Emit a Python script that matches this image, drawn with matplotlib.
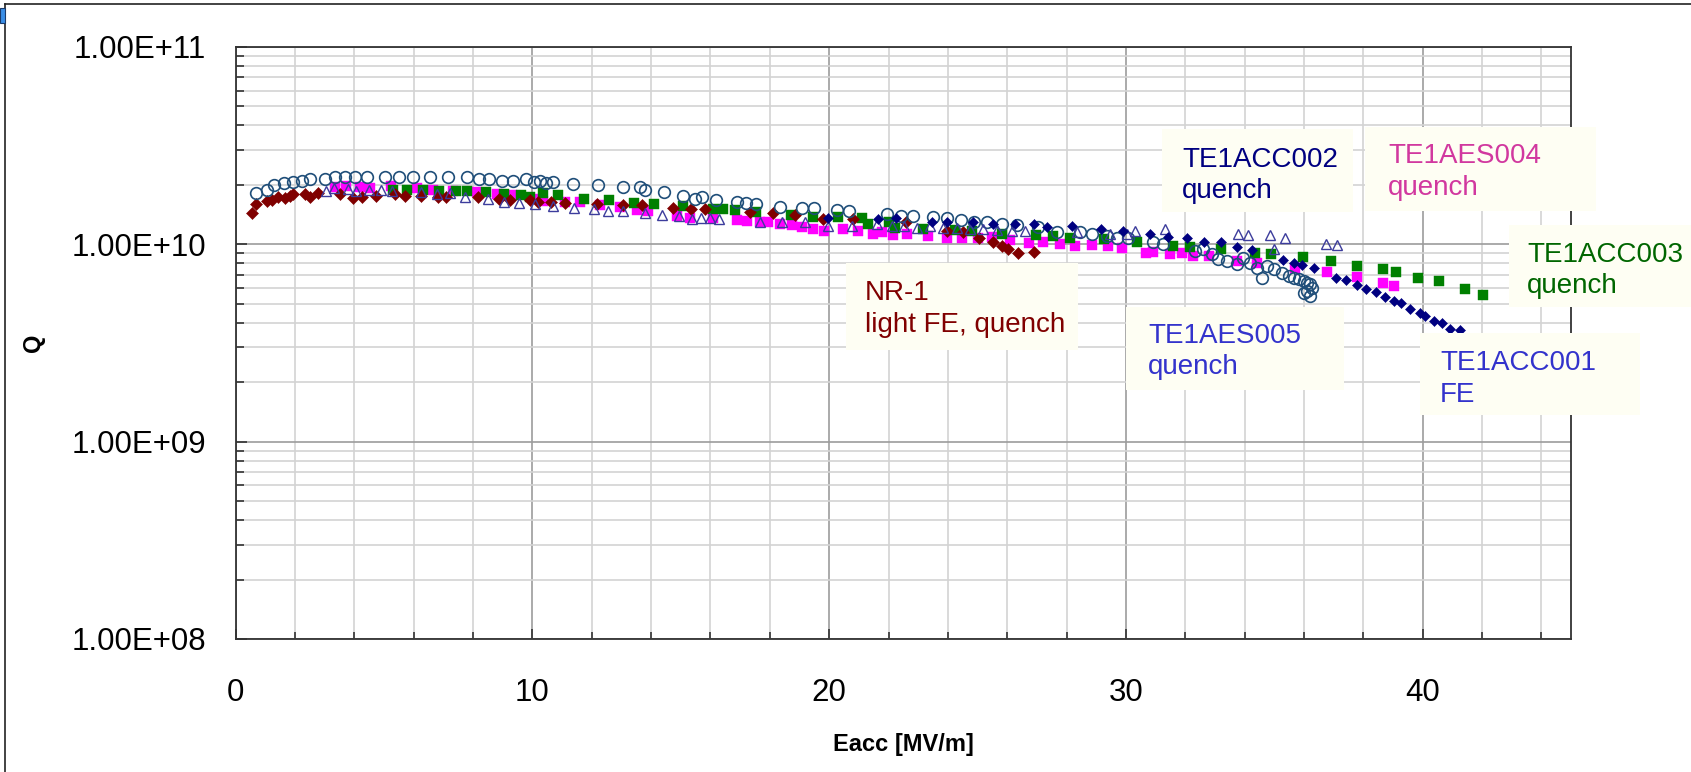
import matplotlib
matplotlib.use("Agg")
import matplotlib.pyplot as plt
from matplotlib.ticker import MultipleLocator, FixedLocator, LogLocator, FuncFormatter, NullFormatter
from matplotlib.patches import Rectangle
from matplotlib.lines import Line2D

plt.rcParams['font.family'] = ['Liberation Sans', 'DejaVu Sans']

# ---------------- data (Eacc in MV/m, Q) ----------------
aes005_x = [0.67, 1.07, 1.29, 1.62, 1.93, 2.24, 2.49, 3.02, 3.36, 3.68, 4.02, 4.41, 5.02, 5.51, 5.98, 6.54,
            7.16, 7.78, 8.2, 8.54, 8.96, 9.35, 9.8, 10.05, 10.27, 10.47, 10.68, 11.37, 12.21, 13.04, 13.62,
            13.79, 14.43, 15.06, 15.47, 15.7, 16.2, 16.9, 17.19, 17.55, 18.35, 19.1, 19.48, 20.25, 20.66,
            21.94, 22.41, 22.82, 23.49, 23.96, 24.43, 24.88, 25.33, 25.81, 26.32, 27.05, 27.67, 28.46, 28.85,
            29.36, 29.69, 30.08, 30.93, 31.26, 32.33, 32.61, 32.89, 33.12, 33.4, 33.74, 33.96, 34.19, 34.42,
            34.59, 34.76, 34.98, 35.26, 35.49, 35.66, 35.83, 35.99, 36.1, 36.21, 36.27, 36.1, 36.21, 35.99]
aes005_q = [1.82e10, 1.88e10, 2.0e10, 2.03e10, 2.07e10, 2.09e10, 2.14e10, 2.14e10, 2.18e10, 2.20e10, 2.20e10,
            2.20e10, 2.20e10, 2.20e10, 2.20e10, 2.20e10, 2.18e10, 2.18e10, 2.14e10, 2.14e10, 2.09e10, 2.08e10,
            2.14e10, 2.06e10, 2.09e10, 2.03e10, 2.06e10, 2.02e10, 2.0e10, 1.95e10, 1.94e10, 1.87e10, 1.83e10,
            1.76e10, 1.69e10, 1.74e10, 1.67e10, 1.64e10, 1.61e10, 1.60e10, 1.55e10, 1.52e10, 1.52e10, 1.49e10,
            1.47e10, 1.42e10, 1.39e10, 1.39e10, 1.37e10, 1.36e10, 1.32e10, 1.30e10, 1.29e10, 1.27e10, 1.25e10,
            1.22e10, 1.15e10, 1.15e10, 1.13e10, 1.10e10, 1.08e10, 1.08e10, 1.02e10, 1.0e10, 9.25e9, 9.44e9,
            8.89e9, 8.39e9, 8.22e9, 7.91e9, 8.55e9, 8.07e9, 7.60e9, 6.76e9, 7.76e9, 7.46e9, 7.18e9, 6.90e9,
            6.76e9, 6.64e9, 6.52e9, 6.38e9, 6.27e9, 6.03e9, 5.79e9, 5.47e9, 5.68e9]

nr1_x = [0.56, 0.7, 1.04, 1.21, 1.43, 1.65, 1.82, 1.93, 2.33, 2.49, 2.77, 3.51, 3.96, 4.24, 4.74, 5.36, 5.7,
         6.26, 6.82, 7.1, 8.17, 8.88, 9.24, 9.91, 10.19, 10.64, 11.09, 12.16, 13.06, 13.68, 14.74, 15.36,
         15.81, 17.33, 18.1, 18.85, 19.8, 20.8, 22.59, 23.96, 24.52, 25.06, 25.53, 25.81, 26.04, 26.37, 26.9]
nr1_q = [1.43e10, 1.60e10, 1.66e10, 1.67e10, 1.73e10, 1.71e10, 1.76e10, 1.79e10, 1.79e10, 1.73e10, 1.81e10,
         1.79e10, 1.71e10, 1.74e10, 1.76e10, 1.79e10, 1.76e10, 1.76e10, 1.74e10, 1.74e10, 1.73e10, 1.69e10,
         1.67e10, 1.67e10, 1.64e10, 1.63e10, 1.61e10, 1.60e10, 1.58e10, 1.58e10, 1.53e10, 1.51e10, 1.51e10,
         1.46e10, 1.43e10, 1.41e10, 1.34e10, 1.34e10, 1.29e10, 1.17e10, 1.15e10, 1.08e10, 1.03e10, 9.8e9,
         9.44e9, 9.06e9, 9.16e9]

acc002_x = [3.03, 3.3, 3.77, 4.05, 4.49, 4.91, 5.28, 6.26, 6.8, 7.22, 7.72, 8.51, 9.04, 9.56, 10.08, 10.7,
            11.4, 12.07, 12.55, 13.06, 13.79, 14.37, 14.94, 15.37, 15.67, 15.98, 16.3, 17.67, 18.4, 19.18,
            19.97, 20.76, 21.6, 22.11, 22.52, 22.95, 23.4, 23.85, 24.3, 24.75, 25.19, 25.65, 26.15, 26.6,
            28.34, 29.47, 30.03, 30.31, 31.32, 33.79, 34.13, 34.84, 35.37, 34.98, 36.75, 37.13]
acc002_q = [1.85e10, 1.92e10, 1.90e10, 1.86e10, 1.88e10, 1.88e10, 1.85e10, 1.83e10, 1.79e10, 1.81e10, 1.74e10,
            1.69e10, 1.64e10, 1.61e10, 1.60e10, 1.56e10, 1.53e10, 1.50e10, 1.48e10, 1.48e10, 1.44e10, 1.40e10,
            1.39e10, 1.34e10, 1.36e10, 1.36e10, 1.34e10, 1.29e10, 1.29e10, 1.29e10, 1.24e10, 1.24e10, 1.26e10,
            1.24e10, 1.24e10, 1.21e10, 1.24e10, 1.21e10, 1.21e10, 1.19e10, 1.19e10, 1.18e10, 1.17e10, 1.17e10,
            1.15e10, 1.12e10, 1.12e10, 1.17e10, 1.19e10, 1.12e10, 1.11e10, 1.11e10, 1.08e10, 9.44e9, 1.0e10,
            9.95e9]

acc001_x = [19.97, 21.66, 22.25, 23.46, 23.98, 24.86, 25.53, 26.26, 26.9, 27.33, 28.2, 29.15, 29.89, 30.81,
            31.43, 32.05, 32.64, 33.2, 33.74, 34.24, 35.29, 35.65, 35.93, 36.35, 37.09, 37.42, 37.79, 38.1,
            38.44, 38.74, 39.02, 39.27, 39.58, 39.92, 40.09, 40.37, 40.65, 40.93, 41.27]
acc001_q = [1.36e10, 1.34e10, 1.36e10, 1.30e10, 1.30e10, 1.30e10, 1.27e10, 1.26e10, 1.26e10, 1.22e10, 1.24e10,
            1.19e10, 1.16e10, 1.13e10, 1.09e10, 1.08e10, 1.03e10, 1.02e10, 9.62e9, 9.29e9, 8.30e9, 8.07e9,
            7.85e9, 7.55e9, 6.71e9, 6.56e9, 6.21e9, 5.92e9, 5.69e9, 5.37e9, 5.15e9, 5.06e9, 4.68e9, 4.50e9,
            4.33e9, 4.08e9, 4.00e9, 3.71e9, 3.66e9]

aes004_x = [3.34, 3.73, 4.18, 4.52, 5.25, 6.1, 6.66, 7.33, 8.12, 8.79, 9.3, 10.02, 10.36, 11.09, 11.6, 12.27,
            12.95, 13.51, 13.9, 14.86, 15.31, 16.1, 16.88, 17.22, 17.67, 17.95, 18.34, 18.74, 19.07, 19.46,
            19.82, 20.48, 20.98, 21.49, 21.77, 22.14, 22.61, 23.34, 23.96, 24.47, 25.03, 25.48, 26.1, 26.72,
            27.22, 27.78, 28.29, 28.85, 29.38, 29.86, 30.68, 30.91, 31.49, 31.88, 32.25, 32.81, 33.76, 34.43,
            35.7, 36.79, 37.8, 38.68, 39.02]
aes004_q = [1.94e10, 1.98e10, 1.94e10, 1.92e10, 1.98e10, 1.92e10, 1.88e10, 1.85e10, 1.83e10, 1.79e10, 1.78e10,
            1.69e10, 1.66e10, 1.63e10, 1.63e10, 1.58e10, 1.55e10, 1.49e10, 1.48e10, 1.39e10, 1.36e10, 1.36e10,
            1.32e10, 1.31e10, 1.29e10, 1.29e10, 1.26e10, 1.25e10, 1.22e10, 1.20e10, 1.16e10, 1.20e10, 1.16e10,
            1.13e10, 1.15e10, 1.11e10, 1.13e10, 1.10e10, 1.08e10, 1.08e10, 1.08e10, 1.09e10, 1.05e10, 1.01e10,
            1.02e10, 1.0e10, 9.8e9, 9.93e9, 9.73e9, 9.55e9, 9.06e9, 9.16e9, 8.89e9, 9.06e9, 8.73e9, 8.73e9,
            8.22e9, 8.07e9, 7.60e9, 7.26e9, 6.82e9, 6.38e9, 6.14e9]

acc003_x = [5.3, 5.76, 6.32, 6.85, 7.44, 7.8, 8.45, 9.04, 9.63, 9.91, 10.36, 10.87, 11.73, 12.59, 13.42, 14.09,
            15.06, 16.09, 16.43, 16.82, 17.55, 18.7, 19.46, 20.31, 21.1, 21.32, 22.03, 22.22, 23.17, 24.24,
            24.8, 25.81, 26.97, 27.56, 28.12, 29.27, 30.39, 31.6, 32.16, 33.2, 34.36, 34.88, 35.96, 36.91,
            37.8, 38.68, 39.11, 39.86, 40.54, 41.44, 42.03]
acc003_q = [1.88e10, 1.88e10, 1.88e10, 1.86e10, 1.85e10, 1.85e10, 1.83e10, 1.79e10, 1.78e10, 1.74e10, 1.81e10,
            1.78e10, 1.69e10, 1.67e10, 1.61e10, 1.60e10, 1.56e10, 1.51e10, 1.51e10, 1.49e10, 1.46e10, 1.41e10,
            1.38e10, 1.38e10, 1.36e10, 1.26e10, 1.30e10, 1.21e10, 1.19e10, 1.18e10, 1.16e10, 1.13e10, 1.11e10,
            1.10e10, 1.08e10, 1.06e10, 1.02e10, 9.8e9, 9.68e9, 9.44e9, 9.06e9, 8.89e9, 8.63e9, 8.17e9, 7.76e9,
            7.46e9, 7.23e9, 6.76e9, 6.52e9, 5.96e9, 5.53e9]

x_ticks = [0, 10, 20, 30, 40]
y_ticks = [1e8, 1e9, 1e10, 1e11]

labels = [
    ("NR-1", "light FE, quench", "#800000"),
    ("TE1ACC002", "quench", "#000080"),
    ("TE1AES004", "quench", "#D1389F"),
    ("TE1ACC003", "quench", "#006600"),
    ("TE1AES005", "quench", "#3333CC"),
    ("TE1ACC001", "FE", "#3333CC"),
]

# ---------------- layout ----------------
W, H = 1691, 772
fig = plt.figure(figsize=(W / 100, H / 100), dpi=100)
fig.patch.set_facecolor("white")


def fx(x):
    return x / W


def fy(y):
    return 1 - y / H


ax_l, ax_r, ax_t, ax_b = 235.7, 1571.0, 46.7, 639.0
ax = fig.add_axes([fx(ax_l), fy(ax_b), (ax_r - ax_l) / W, (ax_b - ax_t) / H])
ax.set_yscale("log")
ax.set_xlim(0, 45)
ax.set_ylim(1e8, 1e11)

ax.xaxis.set_major_locator(FixedLocator(x_ticks))
ax.xaxis.set_minor_locator(MultipleLocator(2))
ax.yaxis.set_major_locator(FixedLocator(y_ticks))
ax.yaxis.set_minor_locator(LogLocator(base=10, subs=range(2, 10), numticks=20))
ax.yaxis.set_major_formatter(FuncFormatter(lambda v, p: f"{v:.2E}"))
ax.yaxis.set_minor_formatter(NullFormatter())

ax.set_axisbelow(True)
ax.grid(which="minor", color="#d3d3d3", lw=1.2)
ax.grid(which="major", color="#9c9c9c", lw=1.2)

for s in ax.spines.values():
    s.set_color("#333333")
    s.set_linewidth(1.3)

ax.tick_params(axis="y", which="major", direction="in", length=8, width=1.2, color="#333333",
               labelsize=22.5, pad=21.5, right=False)
ax.tick_params(axis="y", which="minor", direction="in", length=6, width=1.2, color="#333333", right=False)
ax.tick_params(axis="x", which="major", direction="in", length=7, width=1.2, color="#333333",
               labelsize=22.5, pad=28, top=False)
ax.tick_params(axis="x", which="minor", direction="in", length=5, width=1.2, color="#333333", top=False)

# ---------------- series ----------------
ax.plot(aes004_x, aes004_q, ls="none", marker="s", ms=7.4, mfc="#FF00FF", mec="#FF00FF", mew=0.3, zorder=3)
ax.plot(acc003_x, acc003_q, ls="none", marker="s", ms=6.9, mfc="#008000", mec="#008000", mew=0.3, zorder=4)
ax.plot(nr1_x, nr1_q, ls="none", marker="D", ms=5.7, mfc="#800000", mec="#800000", mew=0.4, zorder=5)
ax.plot(aes005_x, aes005_q, ls="none", marker="o", ms=8.4, mfc="none", mec="#1F4E79", mew=1.2, zorder=6)
ax.plot(acc002_x, acc002_q, ls="none", marker="^", ms=7.6, mfc="none", mec="#3C3C9C", mew=1.0, zorder=7)
ax.plot(acc001_x, acc001_q, ls="none", marker="D", ms=4.9, mfc="#000080", mec="#000080", mew=0.4, zorder=8)

# ---------------- axis titles ----------------
fig.text(fx(903), fy(744), "Eacc [MV/m]", fontsize=17, fontweight="bold", ha="center", va="center")
fig.text(fx(34), fy(343), "Q", fontsize=17, fontweight="bold", ha="center", va="center", rotation=90)

# ---------------- annotation boxes ----------------
boxes = [
    (846, 263, 1078, 350, 865, 300),
    (1162, 129, 1353, 212, 1182, 166.7),
    (1365, 127, 1596, 211, 1388, 163.3),
    (1509, 225, 1691, 307, 1527, 261.7),
    (1126, 307, 1344, 390, 1148, 342.7),
    (1420, 333, 1640, 415, 1440, 370),
]
for (x0, y0, x1, y1, tx, ty), (l1, l2, col) in zip(boxes, labels):
    fig.add_artist(Rectangle((fx(x0), fy(y1)), (x1 - x0) / W, (y1 - y0) / H,
                             transform=fig.transFigure, facecolor="#FEFEF3", edgecolor="none", zorder=5))
    fig.text(fx(tx), fy(ty), l1, fontsize=20, color=col, ha="left", va="baseline", zorder=6)
    fig.text(fx(tx), fy(ty + 31.7), l2, fontsize=20, color=col, ha="left", va="baseline", zorder=6)

# ---------------- outer frame fragments ----------------
fig.add_artist(Line2D([fx(5), fx(W)], [fy(4), fy(4)], transform=fig.transFigure, color="#222222", lw=1.2))
fig.add_artist(Line2D([fx(5), fx(5)], [fy(4), fy(H)], transform=fig.transFigure, color="#222222", lw=1.2))
fig.add_artist(Rectangle((fx(0), fy(23)), 4.5 / W, 15 / H, transform=fig.transFigure,
                         facecolor="#3A8EE6", edgecolor="#1a3a6a", lw=0.8, zorder=7))

fig.savefig("out.png", dpi=100)
